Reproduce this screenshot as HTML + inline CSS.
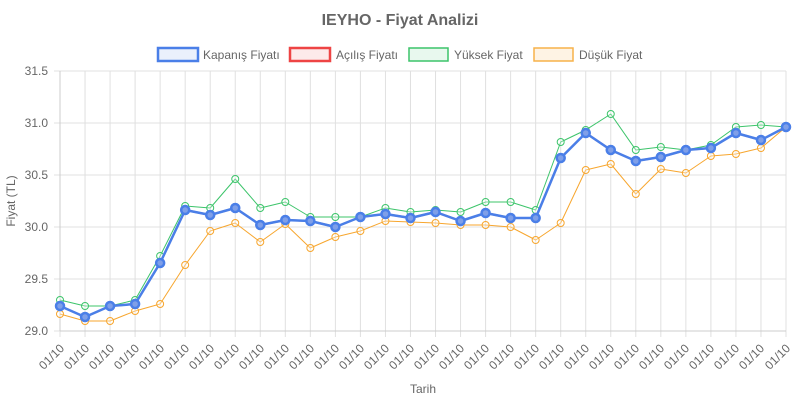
<!DOCTYPE html>
<html><head><meta charset="utf-8"><style>
body{margin:0;background:#fff;}
svg{display:block;font-family:"Liberation Sans",sans-serif;}
</style></head><body>
<svg id="s" width="800" height="400" xmlns="http://www.w3.org/2000/svg">
<text x="400" y="25" text-anchor="middle" font-size="16" font-weight="bold" fill="#666">IEYHO - Fiyat Analizi</text>
<rect x="158" y="48" width="40" height="13" fill="#eaf0fc" stroke="#4a7fe8" stroke-width="2.5"/>
<text x="203" y="59" font-size="12" fill="#666">Kapanış Fiyatı</text>
<rect x="290" y="48" width="40" height="13" fill="#fdeaea" stroke="#ee4444" stroke-width="2.5"/>
<text x="336" y="59" font-size="12" fill="#666">Açılış Fiyatı</text>
<rect x="409" y="48" width="39" height="13" fill="#e8f8ee" stroke="#3cc46a" stroke-width="1.5"/>
<text x="454" y="59" font-size="12" fill="#666">Yüksek Fiyat</text>
<rect x="534" y="48" width="39" height="13" fill="#fef3e4" stroke="#f7b24a" stroke-width="1.5"/>
<text x="579" y="59" font-size="12" fill="#666">Düşük Fiyat</text>
<g font-size="12" fill="#666" text-anchor="end">
<text x="48" y="75">31.5</text><text x="48" y="127">31.0</text><text x="48" y="179">30.5</text>
<text x="48" y="231">30.0</text><text x="48" y="283">29.5</text><text x="48" y="335">29.0</text>
</g>
<text transform="translate(15,201) rotate(-90)" text-anchor="middle" font-size="12" fill="#666">Fiyat (TL)</text>
<text x="423" y="393" text-anchor="middle" font-size="12" fill="#666">Tarih</text>
<g id="g"></g>
<g id="xl" font-size="12" fill="#666" text-anchor="end">
<text transform="translate(65,349) rotate(-45)">01/10</text><text transform="translate(90,349) rotate(-45)">01/10</text><text transform="translate(115,349) rotate(-45)">01/10</text><text transform="translate(140,349) rotate(-45)">01/10</text><text transform="translate(165,349) rotate(-45)">01/10</text><text transform="translate(190,349) rotate(-45)">01/10</text><text transform="translate(215,349) rotate(-45)">01/10</text><text transform="translate(240,349) rotate(-45)">01/10</text><text transform="translate(265,349) rotate(-45)">01/10</text><text transform="translate(290,349) rotate(-45)">01/10</text><text transform="translate(315,349) rotate(-45)">01/10</text><text transform="translate(340,349) rotate(-45)">01/10</text><text transform="translate(365,349) rotate(-45)">01/10</text><text transform="translate(390,349) rotate(-45)">01/10</text><text transform="translate(415,349) rotate(-45)">01/10</text><text transform="translate(440,349) rotate(-45)">01/10</text><text transform="translate(465,349) rotate(-45)">01/10</text><text transform="translate(490,349) rotate(-45)">01/10</text><text transform="translate(515,349) rotate(-45)">01/10</text><text transform="translate(540,349) rotate(-45)">01/10</text><text transform="translate(565,349) rotate(-45)">01/10</text><text transform="translate(590,349) rotate(-45)">01/10</text><text transform="translate(615,349) rotate(-45)">01/10</text><text transform="translate(640,349) rotate(-45)">01/10</text><text transform="translate(665,349) rotate(-45)">01/10</text><text transform="translate(690,349) rotate(-45)">01/10</text><text transform="translate(715,349) rotate(-45)">01/10</text><text transform="translate(740,349) rotate(-45)">01/10</text><text transform="translate(765,349) rotate(-45)">01/10</text><text transform="translate(791,349) rotate(-45)">01/10</text>
</g>
</svg>
<script>
var NS="http://www.w3.org/2000/svg",g=document.getElementById("g");
function el(t,a){var e=document.createElementNS(NS,t);for(var k in a)e.setAttribute(k,a[k]);g.appendChild(e);return e;}
var X0=60,DX=(786-60)/29;
for(var i=0;i<30;i++){var x=X0+DX*i;el("line",{x1:x,y1:71,x2:x,y2:337,stroke:"#e0e0e0","stroke-width":1});}
for(var j=0;j<6;j++){var y=71+52*j;el("line",{x1:54,y1:y,x2:786,y2:y,stroke:"#e0e0e0","stroke-width":1});}
el("line",{x1:60,y1:71,x2:60,y2:331,stroke:"#ccc"});
el("line",{x1:60,y1:331,x2:786,y2:331,stroke:"#ccc"});
var close=[306,317,306,304,263,210,215,208,225,220,221,227,217,214,218,212,221,213,218,218,158,133,150,161,157,150,148,133,140,127];
var high=[300,306,306,300,256,206,208,179,208,202,217,217,217,208,212,210,212,202,202,210,142,130,114,150,147,150,145,127,125,127];
var low=[314,321,321,311,304,265,231,223,242,224,248,237,231,221,222,223,225,225,227,240,223,170,164,194,169,173,156,154,148,127];
function series(d,c,w,r,sw,f){var p=d.map(function(y,i){return (X0+DX*i).toFixed(1)+","+y;}).join(" ");
el("polyline",{points:p,fill:"none",stroke:c,"stroke-width":w,"stroke-linejoin":"round"});
d.forEach(function(y,i){el("circle",{cx:X0+DX*i,cy:y,r:r,fill:f,stroke:c,"stroke-width":sw});});}
series(low,"#f7a62e",1,3.5,1,"rgba(255,255,255,0.3)");
series(high,"#3cc46a",1,3.5,1,"rgba(255,255,255,0.3)");
series(close,"#ee4444",2,4,2,"#f3b0b0");
series(close,"#4a7fe8",2.5,4,2.5,"#7f9fe8");
</script>
</body></html>
